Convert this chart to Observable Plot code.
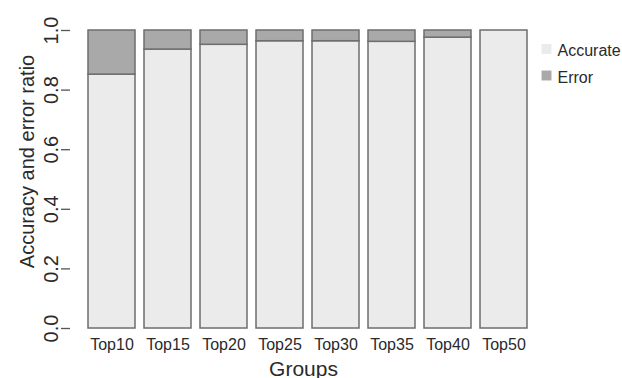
<!DOCTYPE html>
<html>
<head>
<meta charset="utf-8">
<script src="https://cdn.jsdelivr.net/npm/d3@7"></script>
<script src="https://cdn.jsdelivr.net/npm/@observablehq/plot@0.6"></script>
<style>
  html, body { margin: 0; padding: 0; background: #fff; }
  #chart { width: 622px; height: 378px; }
</style>
</head>
<body>
<div id="chart"></div>
<script>
// Share of accurate vs. erroneous results per group
const groups = ["Top10", "Top15", "Top20", "Top25", "Top30", "Top35", "Top40", "Top50"];
const accurate = [0.852, 0.936, 0.952, 0.964, 0.964, 0.962, 0.976, 1.0];
const error    = [0.148, 0.064, 0.048, 0.036, 0.036, 0.038, 0.024, 0.0];
const statuses = ["Accurate", "Error"];
const statusColors = ["#ebebeb", "#a9a9a9"];
const yTicks = [0, 0.2, 0.4, 0.6, 0.8, 1.0];

// long table: accurate segments first so they stack at the bottom
const rows = [
  ...groups.map((g, i) => ({group: g, status: "Accurate", value: accurate[i]})),
  ...groups.map((g, i) => ({group: g, status: "Error", value: error[i]}))
];

const font = "'Liberation Sans', Arial, Helvetica, sans-serif";
const ink = "#2a2a2a";
const axisGray = "#555";

const W = 622, H = 378;
const mTop = 30, mBottom = 50, mLeft = 70, mRight = 86;
// a rule without x sits mid-frame; shift it onto the left edge of the frame
const axisLineShift = mLeft - (mLeft + W - mRight) / 2;

const legendMarks = statuses.flatMap((s, i) => [
  Plot.dot([s], {frameAnchor: "top-right", dx: 10, dy: 18.5 + 26.5 * i, symbol: "square", r: 5.6, fill: d => d, stroke: "none"}),
  Plot.text([s], {frameAnchor: "top-right", dx: 21, dy: 25.5 + 27 * i, text: d => d, textAnchor: "start", lineAnchor: "bottom", fontSize: 16, fill: ink})
]);

const chart = Plot.plot({
  width: W,
  height: H,
  marginTop: mTop,
  marginBottom: mBottom,
  marginLeft: mLeft,
  marginRight: mRight,
  style: {fontFamily: font, background: "#fff", color: ink, overflow: "visible"},
  x: {domain: groups, range: [77.7, 536.3], padding: 0.167, label: null},
  y: {domain: [0, 1], label: null},
  color: {domain: statuses, range: statusColors},
  marks: [
    Plot.barY(rows, {x: "group", y: "value", fill: "status", stroke: "#6e6e6e", strokeWidth: 1.5}),
    Plot.ruleX([0], {y1: yTicks[0], y2: yTicks[yTicks.length - 1], dx: axisLineShift, stroke: axisGray, strokeWidth: 1.3}),
    Plot.axisY(yTicks, {tickSize: 9, tickFormat: () => "", stroke: axisGray, strokeWidth: 1.3}),
    Plot.text(yTicks, {y: d => d, text: d => d.toFixed(1), frameAnchor: "left", dx: -12.5, rotate: -90, textAnchor: "middle", lineAnchor: "bottom", fontSize: 20, fill: ink}),
    Plot.axisX({tickSize: 0, tickPadding: 10, fontSize: 16, label: null}),
    Plot.text(["Groups"], {frameAnchor: "bottom", dy: 47, lineAnchor: "bottom", fontSize: 21, fill: ink}),
    Plot.text(["Accuracy and error ratio"], {frameAnchor: "left", dx: -37, dy: -18, rotate: -90, textAnchor: "middle", lineAnchor: "bottom", fontSize: 20, fill: ink}),
    ...legendMarks
  ]
});

document.getElementById("chart").appendChild(chart);
</script>
</body>
</html>
